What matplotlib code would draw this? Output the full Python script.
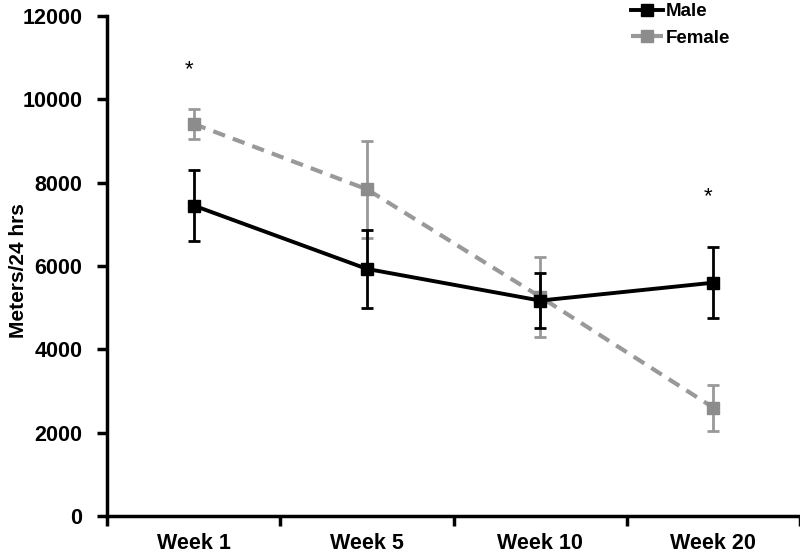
import matplotlib
matplotlib.use("Agg")
import matplotlib.pyplot as plt
from matplotlib.lines import Line2D
import numpy as np

plt.rcParams['font.family'] = ['Liberation Sans', 'DejaVu Sans']

categories = ["Week 1", "Week 5", "Week 10", "Week 20"]
male = [7450, 5930, 5170, 5600]
male_err = [860, 930, 660, 855]
female = [9410, 7840, 5260, 2600]
female_err = [360, 1170, 960, 550]
sig_labels = ["*", "", "", "*"]
sig_heights = [10700, None, None, 7660]
yticks = [0, 2000, 4000, 6000, 8000, 10000, 12000]

fig = plt.figure(figsize=(8, 5.54), dpi=100)
ax = fig.add_axes([0.134, 0.0686, 0.866, 0.9025])
x = np.arange(len(categories))

ax.errorbar(x, female, yerr=female_err, color='#999999', ecolor='#999999',
            linestyle='--', dashes=(3, 2), linewidth=3, marker='s', markersize=9,
            markerfacecolor='#8c8c8c', markeredgecolor='#8c8c8c',
            elinewidth=2, capsize=4, capthick=2, zorder=3)
ax.errorbar(x, male, yerr=male_err, color='black', ecolor='black',
            linestyle='-', linewidth=2.8, marker='s', markersize=9,
            elinewidth=2, capsize=4, capthick=2, zorder=4)

for xi, lab, h in zip(x, sig_labels, sig_heights):
    if lab:
        ax.text(xi - 0.03, h, lab, ha='center', va='center', fontsize=16)

ax.set_xlim(-0.5, 3.5)
ax.set_ylim(0, 12000)
ax.set_yticks(yticks)
ax.set_yticklabels([str(v) for v in yticks], fontsize=15.5, fontweight='bold')
ax.set_xticks(np.arange(-0.5, 3.6, 1.0))
ax.set_xticklabels([])
ax.set_xticks(x, minor=True)
ax.set_xticklabels(categories, minor=True, fontsize=15.5, fontweight='bold')
ax.tick_params(axis='x', which='minor', length=0, pad=12)
ax.tick_params(axis='x', which='major', length=7, width=2.5, direction='out')
ax.tick_params(axis='y', length=7, width=2.5, direction='out', pad=11)
ax.set_ylabel("Meters/24 hrs", fontsize=15, fontweight='bold')
ax.yaxis.set_label_coords(-0.115, 0.49)

for s in ['top', 'right']:
    ax.spines[s].set_visible(False)
for s in ['left', 'bottom']:
    ax.spines[s].set_linewidth(2.5)

handles = [
    Line2D([], [], color='black', linewidth=2.8, marker='s', markersize=9),
    Line2D([], [], color='#999999', linewidth=3, linestyle='--', dashes=(3, 2),
           marker='s', markersize=9, markerfacecolor='#8c8c8c',
           markeredgecolor='#8c8c8c'),
]
leg = fig.legend(handles, ["Male", "Female"],
                 loc='upper left', bbox_to_anchor=(0.768, 1.025), frameon=False,
                 prop={'size': 13.5, 'weight': 'bold'}, handlelength=1.7,
                 handletextpad=0.15, labelspacing=0.5)

fig.savefig("out.png", dpi=100)
